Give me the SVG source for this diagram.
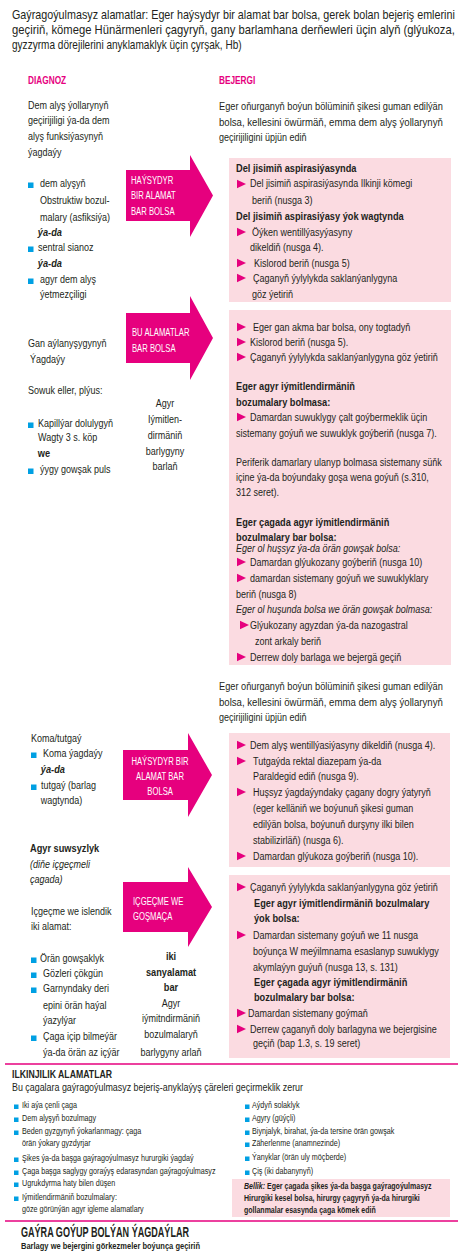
<svg xmlns="http://www.w3.org/2000/svg" xmlns:xlink="http://www.w3.org/1999/xlink" width="460" height="1252" viewBox="0 0 460 1252">
<style>
text{font-family:"Liberation Sans",Arial,sans-serif;font-size:11px;fill:#231f20;transform-box:fill-box;transform-origin:0 0;transform:scaleX(0.82)}
.b{font-weight:bold;transform:scaleX(0.84)}
.i{font-style:italic}
.w{fill:#ffffff;font-size:11px;transform:scaleX(0.7)}
.p{fill:#e6007e;font-weight:bold;font-size:11.5px;transform:scaleX(0.72)}
.m{text-anchor:middle;transform-origin:50% 0}
.s{font-size:9px;transform:scaleX(0.8)}
.sb{font-size:9px;font-weight:bold;transform:scaleX(0.78)}
.j{transform:none}
.h{font-size:12px}
.box{fill:#fbdbe1}
.arrow{fill:#e6007e}
.sep{stroke:#e6007e;stroke-width:1.6}
</style>
<defs>
<path id="tri" d="M0,-4.2 L9,0 L0,4.2Z" fill="#e6007e"/>
<rect id="sq" x="0" y="-5.5" width="5.5" height="5.5" fill="#00a0e3"/>
<rect id="sqs" x="0" y="-4.5" width="4.5" height="4.5" fill="#00a0e3"/>
</defs>
<rect width="460" height="1252" fill="#ffffff"/>

<g id="header">
<text x="12" y="19.5" class="h" textLength="540" lengthAdjust="spacingAndGlyphs">Gaýragoýulmasyz alamatlar: Eger haýsydyr bir alamat bar bolsa, gerek bolan bejeriş emlerini</text>
<text x="12" y="34.5" class="h" textLength="540" lengthAdjust="spacingAndGlyphs">geçiriň, kömege Hünärmenleri çagyryň, gany barlamhana derňewleri üçin alyň (glýukoza,</text>
<text x="12" y="49.5" class="h" textLength="280" lengthAdjust="spacingAndGlyphs">gyzzyrma dörejilerini anyklamaklyk üçin çyrşak, Hb)</text>
<text x="28" y="84" class="p">DIAGNOZ</text>
<text x="219" y="84" class="p">BEJERGI</text>
</g>

<g id="connectors">
<g id="arrow1">
<path class="arrow" d="M126,170 H190 V155 L213,195.5 L190,237 V221 H126 Z"/>
<text x="131" y="184" class="w">HAÝSYDYR</text>
<text x="131" y="199.5" class="w">BIR ALAMAT</text>
<text x="131" y="215" class="w">BAR BOLSA</text>
</g>
<g id="arrow2">
<path class="arrow" d="M126,313 H190 V296 L213,338 L190,380 V363 H126 Z"/>
<text x="132" y="336" class="w">BU ALAMATLAR</text>
<text x="132" y="352" class="w">BAR BOLSA</text>
</g>
<g id="arrow3">
<path class="arrow" d="M123,750 H188 V733 L212,775 L188,817 V800 H123 Z"/>
<text x="160" y="765" class="w m">HAÝSYDYR BIR</text>
<text x="160" y="780" class="w m">ALAMAT BAR</text>
<text x="160" y="795" class="w m">BOLSA</text>
</g>
<g id="arrow4">
<path class="arrow" d="M123,882 H188 V867 L212,907 L188,947 V932 H123 Z"/>
<text x="133" y="905" class="w">IÇGEÇME WE</text>
<text x="133" y="920" class="w">GOŞMAÇA</text>
</g>
</g>

<g id="diag1">
<text x="28" y="109">Dem alyş ýollarynyň</text>
<text x="28" y="124.5">geçirijiligi ýa-da dem</text>
<text x="28" y="140.5">alyş funksiýasynyň</text>
<text x="28" y="156">ýagdaýy</text>
<use xlink:href="#sq" x="28" y="188"/>
<text x="40" y="187">dem alyşyň</text>
<text x="40" y="204">Obstruktiw bozul-</text>
<text x="40" y="221">malary (asfiksiýa)</text>
<text x="38" y="236" class="b i">ýa-da</text>
<use xlink:href="#sq" x="28" y="252"/>
<text x="38" y="251">sentral  sianoz</text>
<text x="38" y="267" class="b i">ýa-da</text>
<use xlink:href="#sq" x="28" y="284"/>
<text x="40" y="283">agyr dem alyş</text>
<text x="40" y="298">ýetmezçiligi</text>
</g>

<g id="treat-intro1">
<text x="219" y="110" textLength="273" lengthAdjust="spacingAndGlyphs">Eger oňurganyň boýun bölüminiň şikesi guman edilýän</text>
<text x="219" y="126" textLength="273" lengthAdjust="spacingAndGlyphs">bolsa, kellesini öwürmäň, emma dem alyş ýollarynyň</text>
<text x="219" y="141">geçirijiligini üpjün ediň</text>
</g>

<g id="box1">
<rect class="box" x="229" y="158" width="222" height="144"/>
<text x="236" y="172" class="b">Del jisimiň aspirasiýasynda</text>
<use xlink:href="#tri" x="237" y="184"/>
<text x="250" y="187.5">Del jisimiň aspirasiýasynda Ilkinji kömegi</text>
<text x="252" y="204">beriň (nusga 3)</text>
<text x="236" y="220" class="b">Del jisimiň aspirasiýasy ýok wagtynda</text>
<use xlink:href="#tri" x="237" y="232"/>
<text x="252" y="236">Öýken wentillýasyýasyny</text>
<text x="250" y="251">dikeldiň (nusga 4).</text>
<use xlink:href="#tri" x="237" y="263"/>
<text x="254" y="267">Kislorod beriň  (nusga 5)</text>
<use xlink:href="#tri" x="237" y="278"/>
<text x="253" y="282">Çaganyň ýylylykda saklanýanlygyna</text>
<text x="252" y="298">göz ýetiriň</text>
</g>

<g id="diag2">
<text x="28" y="347">Gan aýlanyşygynyň</text>
<text x="30" y="363">Ýagdaýy</text>
<text x="28" y="394">Sowuk eller, plýus:</text>
<use xlink:href="#sq" x="28" y="428"/>
<text x="38" y="427">Kapillýar dolulygyň</text>
<text x="38" y="441">Wagty 3 s. köp</text>
<text x="38" y="457" class="b">we</text>
<use xlink:href="#sq" x="28" y="474"/>
<text x="40" y="473">ýygy gowşak puls</text>
<text x="165" y="407" class="m">Agyr</text>
<text x="165" y="423" class="m">Iýmitlen-</text>
<text x="165" y="439" class="m">dirmäniň</text>
<text x="165" y="455" class="m">barlygyny</text>
<text x="165" y="470" class="m">barlaň</text>
</g>

<g id="box2">
<rect class="box" x="229" y="310" width="222" height="355"/>
<use xlink:href="#tri" x="237" y="327"/>
<text x="253" y="331">Eger gan akma bar bolsa, ony togtadyň</text>
<use xlink:href="#tri" x="237" y="342"/>
<text x="250" y="346">Kislorod beriň (nusga 5).</text>
<use xlink:href="#tri" x="237" y="357"/>
<text x="250" y="361">Çaganyň ýylylykda saklanýanlygyna göz ýetiriň</text>
<text x="236" y="390" class="b">Eger agyr iýmitlendirmäniň</text>
<text x="236" y="406" class="b">bozumalary bolmasa:</text>
<use xlink:href="#tri" x="237" y="417"/>
<text x="250" y="421">Damardan suwuklygy çalt goýbermeklik üçin</text>
<text x="236" y="437">sistemany goýuň we suwuklyk goýberiň (nusga 7).</text>
<text x="236" y="466">Periferik damarlary ulanyp bolmasa sistemany süňk</text>
<text x="236" y="481">içine ýa-da boýundaky goşa wena goýuň (s.310,</text>
<text x="236" y="496">312 seret).</text>
<text x="236" y="526" class="b">Eger çagada agyr iýmitlendirmäniň</text>
<text x="236" y="541" class="b">bozulmalary bar bolsa:</text>
<text x="236" y="552" class="i">Eger ol huşsyz ýa-da örän gowşak bolsa:</text>
<use xlink:href="#tri" x="237" y="562"/>
<text x="250" y="566">Damardan glýukozany goýberiň (nusga 10)</text>
<use xlink:href="#tri" x="237" y="578"/>
<text x="250" y="582">damardan sistemany goýuň we suwuklyklary</text>
<text x="236" y="598">beriň (nusga 8)</text>
<text x="236" y="613" class="i">Eger ol huşunda bolsa we örän gowşak bolmasa:</text>
<use xlink:href="#tri" x="240" y="625"/>
<text x="250" y="629">Glýukozany agyzdan ýa-da nazogastral</text>
<text x="255" y="645">zont arkaly beriň</text>
<use xlink:href="#tri" x="237" y="657"/>
<text x="250" y="661">Derrew doly barlaga we bejergä geçiň</text>
</g>

<g id="treat-intro2">
<text x="219" y="690" textLength="273" lengthAdjust="spacingAndGlyphs">Eger oňurganyň boýun bölüminiň şikesi guman edilýän</text>
<text x="219" y="706" textLength="273" lengthAdjust="spacingAndGlyphs">bolsa, kellesini öwürmäň, emma dem alyş ýollarynyň</text>
<text x="219" y="721">geçirijiligini üpjün ediň</text>
</g>

<g id="diag3">
<text x="31" y="742">Koma/tutgaý</text>
<use xlink:href="#sq" x="31" y="758"/>
<text x="43" y="757">Koma ýagdaýy</text>
<text x="41" y="773" class="b i">ýa-da</text>
<use xlink:href="#sq" x="31" y="790"/>
<text x="41" y="789">tutgaý (barlag</text>
<text x="41" y="804">wagtynda)</text>
</g>

<g id="box3">
<rect class="box" x="229" y="733" width="221" height="134"/>
<use xlink:href="#tri" x="237" y="745"/>
<text x="250" y="749">Dem alyş wentillýasiýasyny dikeldiň (nusga 4).</text>
<use xlink:href="#tri" x="237" y="761"/>
<text x="253" y="765">Tutgaýda rektal diazepam ýa-da</text>
<text x="253" y="780">Paraldegid ediň (nusga 9).</text>
<use xlink:href="#tri" x="237" y="792"/>
<text x="253" y="796">Huşsyz ýagdaýyndaky çagany dogry ýatyryň</text>
<text x="253" y="812">(eger kelläniň we boýunuň şikesi guman</text>
<text x="253" y="828">edilýän bolsa, boýunuň durşyny ilki bilen</text>
<text x="253" y="844">stabilizirläň) (nusga 6).</text>
<use xlink:href="#tri" x="237" y="856"/>
<text x="253" y="860">Damardan glýukoza goýberiň (nusga 10).</text>
</g>

<g id="diag4">
<text x="30" y="852" class="b">Agyr suwsyzlyk</text>
<text x="30" y="868" class="i">(diňe içgeçmeli</text>
<text x="30" y="883" class="i">çagada)</text>
<text x="31" y="915">Içgeçme we islendik</text>
<text x="31" y="930">iki alamat:</text>
<use xlink:href="#sq" x="31" y="963"/>
<text x="40" y="962">Örän gowşaklyk</text>
<use xlink:href="#sq" x="31" y="978"/>
<text x="43" y="977">Gözleri çökgün</text>
<use xlink:href="#sq" x="31" y="993"/>
<text x="43" y="992">Garnyndaky deri</text>
<text x="43" y="1009">epini örän haýal</text>
<text x="43" y="1024">ýazylýar</text>
<use xlink:href="#sq" x="31" y="1041"/>
<text x="43" y="1040">Çaga içip bilmeýär</text>
<text x="43" y="1056">ýa-da örän az  içýär</text>
<text x="171" y="960" class="m b">iki</text>
<text x="171" y="976" class="m b">sanyalamat</text>
<text x="171" y="991" class="m b">bar</text>
<text x="171" y="1007" class="m">Agyr</text>
<text x="171" y="1022" class="m">iýmitndirmäniň</text>
<text x="171" y="1038" class="m">bozulmalaryň</text>
<text x="171" y="1056" class="m">barlygyny arlaň</text>
</g>

<g id="box4">
<rect class="box" x="229" y="875" width="221" height="183"/>
<use xlink:href="#tri" x="237" y="887"/>
<text x="250" y="891">Çaganyň ýylylykda saklanýanlygyna göz ýetiriň</text>
<text x="254" y="907" class="b">Eger agyr iýmitlendirmäniň bozulmalary</text>
<text x="254" y="922" class="b">ýok bolsa:</text>
<use xlink:href="#tri" x="237" y="935"/>
<text x="253" y="939">Damardan sistemany goýuň we 11 nusga</text>
<text x="253" y="955">boýunça W meýilmnama esaslanyp suwuklygy</text>
<text x="253" y="971">akymlaýyn guýuň (nusga 13, s. 131)</text>
<text x="254" y="986" class="b">Eger çagada agyr iýmitlendirmäniň</text>
<text x="254" y="1001" class="b">bozulmalary bar bolsa:</text>
<use xlink:href="#tri" x="237" y="1013"/>
<text x="248" y="1017">Damardan sistemany goýmaň</text>
<use xlink:href="#tri" x="237" y="1029"/>
<text x="250" y="1033">Derrew çaganyň doly barlagyna we bejergisine</text>
<text x="253" y="1047">geçiň (bap 1.3, s. 19 seret)</text>
</g>

<line class="sep" x1="5" y1="1064" x2="458" y2="1064"/>

<g id="danger-signs">
<text x="12" y="1078" class="b j" textLength="100" lengthAdjust="spacingAndGlyphs">ILKINJILIK ALAMATLAR</text>
<text x="12" y="1091" class="j" style="font-size:11.5px" textLength="291" lengthAdjust="spacingAndGlyphs">Bu çagalara gaýragoýulmasyz bejeriş-anyklaýyş çäreleri geçirmeklik zerur</text>
<use xlink:href="#sqs" x="14" y="1109"/>
<text x="22" y="1108" class="s">Iki aýa çenli çaga</text>
<use xlink:href="#sqs" x="14" y="1122"/>
<text x="22" y="1121" class="s">Dem  alyşyň  bozulmagy</text>
<use xlink:href="#sqs" x="14" y="1135"/>
<text x="22" y="1134" class="s">Beden gyzgynyň ýokarlanmagy: çaga</text>
<text x="22" y="1146" class="s">örän  ýokary gyzdyrjar</text>
<use xlink:href="#sqs" x="14" y="1162"/>
<text x="22" y="1161" class="s">Şikes ýa-da başga gaýragoýulmasyz hururgiki ýagdaý</text>
<use xlink:href="#sqs" x="14" y="1175"/>
<text x="22" y="1174" class="s">Çaga başga saglygy goraýyş edarasyndan gaýragoýulmasyz</text>
<use xlink:href="#sqs" x="14" y="1187"/>
<text x="22" y="1186" class="s">Ugrukdyrma haty bilen düşen</text>
<use xlink:href="#sqs" x="14" y="1201"/>
<text x="22" y="1200" class="s">Iýmitlendirmäniň bozulmalary:</text>
<text x="22" y="1212" class="s">göze görünýän agyr igleme  alamatlary</text>
<use xlink:href="#sqs" x="245" y="1109"/>
<text x="252" y="1108" class="s">Aýdyň solaklyk</text>
<use xlink:href="#sqs" x="245" y="1122"/>
<text x="252" y="1121" class="s">Agyry (güýçli)</text>
<use xlink:href="#sqs" x="245" y="1135"/>
<text x="252" y="1134" class="s">Biynjalyk, birahat, ýa-da tersine örän gowşak</text>
<use xlink:href="#sqs" x="245" y="1147"/>
<text x="252" y="1146" class="s">Zäherlenme (anamnezinde)</text>
<use xlink:href="#sqs" x="245" y="1161"/>
<text x="252" y="1160" class="s">Ýanyklar (örän uly möçberde)</text>
<use xlink:href="#sqs" x="245" y="1175"/>
<text x="252" y="1174" class="s">Çiş (iki dabanynyň)</text>
</g>

<g id="note">
<rect class="box" x="232" y="1179" width="218" height="38"/>
<text x="244" y="1189.5" class="sb"><tspan font-style="italic">Bellik:</tspan> Eger çagada şikes ýa-da başga gaýragoýulmasyz</text>
<text x="244" y="1201.5" class="sb">Hirurgiki kesel bolsa, hirurgy çagyryň ýa-da hirurgiki</text>
<text x="244" y="1213.5" class="sb">gollanmalar esasynda çaga kömek ediň</text>
</g>

<line class="sep" x1="5" y1="1221" x2="458" y2="1221"/>

<g id="deferrable">
<text x="21" y="1236.5" class="b j" style="font-size:14.5px" textLength="168" lengthAdjust="spacingAndGlyphs">GAÝRA GOÝUP BOLÝAN ÝAGDAÝLAR</text>
<text x="21" y="1249" class="b j" style="font-size:9.5px" textLength="179" lengthAdjust="spacingAndGlyphs">Barlagy we bejergini görkezmeler boýunça geçiriň</text>
</g>
</svg>
